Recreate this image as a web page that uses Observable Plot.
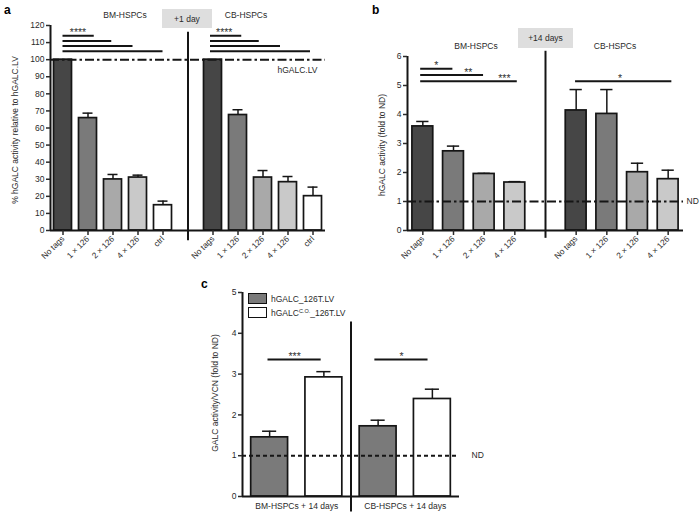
<!DOCTYPE html>
<html><head><meta charset="utf-8">
<script src="https://cdn.jsdelivr.net/npm/d3@7"></script>
<script src="https://cdn.jsdelivr.net/npm/@observablehq/plot@0.6"></script>
<style>
body{margin:0;background:#fff;font-family:"Liberation Sans",Arial,sans-serif;}
#root{position:relative;width:700px;height:515px;overflow:hidden;background:#fff}
.pnl{position:absolute}
.t{position:absolute;font-size:8.5px;color:#2a2a2a;white-space:nowrap;line-height:1}
.c{transform:translate(-50%,-50%)}
.rot{transform:translate(-50%,-50%) rotate(-90deg)}
.letter{position:absolute;font-weight:bold;font-size:12px;color:#000;line-height:1}
.box{position:absolute;background:#dedede;font-size:8.5px;color:#2a2a2a;display:flex;align-items:center;justify-content:center}
.sw{position:absolute;border:1.6px solid #111;box-sizing:border-box}
sup{font-size:5.5px;vertical-align:0;position:relative;top:-3.5px}
</style></head><body><div id="root"></div>
<script>
// ---------- Panel a data ----------
const catsA = ["No tags", "1 × 126", "2 × 126", "4 × 126", "ctrl"];
const bmA = [100, 65.8, 29.9, 31.0, 14.8];
const bmAerr = [0, 2.9, 2.9, 1.4, 2.4];
const cbA = [100, 67.6, 31.0, 28.3, 20.1];
const cbAerr = [0, 3.1, 4.1, 3.3, 5.3];
const fillsA = ["#464646", "#7a7a7a", "#a9a9a9", "#c9c9c9", "#ffffff"];
const ticksA = d3.range(0, 121, 10);
const sigA = [
  {from: 0, to: 1.25, y: 114, label: "****", lx: 0.6},
  {from: 0, to: 1.95, y: 111},
  {from: 0, to: 2.8, y: 108},
  {from: 0, to: 4, y: 105},
  {from: 5.9, to: 7.15, y: 114, label: "****", lx: 6.45},
  {from: 5.9, to: 7.85, y: 111},
  {from: 5.9, to: 8.7, y: 108},
  {from: 5.9, to: 9.9, y: 105}
];

// ---------- Panel b data ----------
const catsB = ["No tags", "1 × 126", "2 × 126", "4 × 126"];
const bmB = [3.59, 2.73, 1.95, 1.655];
const bmBerr = [0.17, 0.18, 0.02, 0.03];
const cbB = [4.14, 4.02, 2.01, 1.77];
const cbBerr = [0.72, 0.84, 0.31, 0.31];
const fillsB = ["#464646", "#7a7a7a", "#a9a9a9", "#c9c9c9"];
const ticksB = d3.range(0, 7, 1);
const sigB = [
  {from: -0.07, to: 0.98, y: 5.58, label: "*", lx: 0.44},
  {from: -0.07, to: 1.98, y: 5.36, label: "**", lx: 1.48},
  {from: -0.07, to: 3.08, y: 5.15, label: "***", lx: 2.66},
  {from: 4.98, to: 8.12, y: 5.15, label: "*", lx: 6.43}
];

// ---------- Panel c data ----------
const groupsC = ["BM-HSPCs + 14 days", "CB-HSPCs + 14 days"];
const seriesC = ["hGALC_126T.LV", "hGALC C.O. _126T.LV"];
const stdC = [1.45, 1.72];
const stdCerr = [0.15, 0.15];
const coC = [2.92, 2.39];
const coCerr = [0.14, 0.24];
const fillsC = ["#7a7a7a", "#ffffff"];
const ticksC = d3.range(0, 6, 1);
const sigC = [
  {from: -0.03, to: 0.95, y: 3.36, label: "***"},
  {from: 1.94, to: 2.92, y: 3.36, label: "*"}
];

const FONT = "'Liberation Sans', Arial, sans-serif";
const INK = "#151515";
const root = document.getElementById("root");

function put(node, left, top) {
  node.classList.add("pnl");
  node.style.left = left + "px";
  node.style.top = top + "px";
  root.appendChild(node);
}
function html(cls, text, left, top, extra) {
  const d = document.createElement("div");
  d.className = cls;
  d.innerHTML = text;
  d.style.left = left + "px";
  d.style.top = top + "px";
  if (extra) Object.assign(d.style, extra);
  root.appendChild(d);
  return d;
}

function barMarks(bars, half, cap) {
  const err = bars.filter(d => d.e > 0);
  return [
    Plot.ruleX(err, {x: "pos", y1: "v", y2: d => d.v + d.e, stroke: INK, strokeWidth: 1.5}),
    Plot.ruleY(err, {y: d => d.v + d.e, x1: d => d.pos - cap, x2: d => d.pos + cap, stroke: INK, strokeWidth: 1.5}),
    Plot.rect(bars, {x1: d => d.pos - half, x2: d => d.pos + half, y1: 0, y2: "v", fill: "cat", stroke: INK, strokeWidth: 1.7})
  ];
}
function sigMarks(sig, fs) {
  return [
    Plot.ruleY(sig, {y: "y", x1: "from", x2: "to", stroke: INK, strokeWidth: 2}),
    Plot.text(sig.filter(d => d.label), {x: d => d.lx ?? (d.from + d.to) / 2, y: "y", text: "label", lineAnchor: "bottom", dy: 0.5, fontSize: fs, fill: "#333"})
  ];
}
const baseStyle = {fontFamily: FONT, fontSize: "8.5px", color: "#2a2a2a", background: "transparent", overflow: "visible"};
const intFmt = d3.format("d");

// ---------- Panel a ----------
const barsA = [
  ...catsA.map((c, k) => ({pos: k, cat: c, v: bmA[k], e: bmAerr[k]})),
  ...catsA.map((c, k) => ({pos: k + catsA.length + 1, cat: c, v: cbA[k], e: cbAerr[k]}))
];
const dividerA = catsA.length;
const plotA = Plot.plot({
  width: 350, height: 262,
  marginLeft: 50, marginRight: 25, marginTop: 25, marginBottom: 32,
  style: baseStyle,
  x: {domain: [-0.5, 2 * catsA.length + 0.5]},
  y: {domain: [0, 120]},
  color: {domain: catsA, range: fillsA},
  marks: [
    ...barMarks(barsA, 0.36, 0.2),
    Plot.ruleY([100], {stroke: INK, strokeWidth: 2, strokeDasharray: "9,3,2.5,3"}),
    Plot.text([100], {y: d => d, text: () => "hGALC.LV", frameAnchor: "right", textAnchor: "end", dx: -8, dy: 11, fontSize: 8.5, fill: "#2a2a2a"}),
    ...sigMarks(sigA, 10.5),
    Plot.ruleX([dividerA], {y1: -6, y2: 116, stroke: INK, strokeWidth: 2}),
    Plot.ruleX([-0.5], {stroke: INK, strokeWidth: 2}),
    Plot.ruleY([0], {stroke: INK, strokeWidth: 2}),
    Plot.axisY({ticks: ticksA, tickFormat: intFmt, tickSize: 4, tickPadding: 2, strokeWidth: 1.5, fontSize: 8.5, label: null}),
    Plot.axisX({ticks: barsA.map(d => d.pos), tickFormat: p => barsA.find(d => d.pos === p).cat, tickRotate: -45, tickSize: 5, tickPadding: 2, strokeWidth: 1.5, fontSize: 8.3, label: null})
  ]
});
put(plotA, 0, 0);

// ---------- Panel b ----------
const barsB = [
  ...catsB.map((c, k) => ({pos: k, cat: c, v: bmB[k], e: bmBerr[k]})),
  ...catsB.map((c, k) => ({pos: k + catsB.length + 1, cat: c, v: cbB[k], e: cbBerr[k]}))
];
const dividerB = catsB.length;
const plotB = Plot.plot({
  width: 350, height: 262,
  marginLeft: 57, marginRight: 17, marginTop: 56, marginBottom: 32,
  style: baseStyle,
  x: {domain: [-0.5, 2 * catsB.length + 0.5]},
  y: {domain: [0, 6]},
  color: {domain: catsB, range: fillsB},
  marks: [
    ...barMarks(barsB, 0.34, 0.2),
    Plot.ruleY([1], {stroke: INK, strokeWidth: 2, strokeDasharray: "9,3,2.5,3"}),
    Plot.text([1], {y: d => d, text: () => "ND", frameAnchor: "right", textAnchor: "start", dx: 3, fontSize: 8.5, fill: "#2a2a2a"}),
    ...sigMarks(sigB, 10.5),
    Plot.ruleX([dividerB], {y1: -0.27, y2: 6.18, stroke: INK, strokeWidth: 2}),
    Plot.ruleX([-0.5], {stroke: INK, strokeWidth: 2}),
    Plot.ruleY([0], {stroke: INK, strokeWidth: 2}),
    Plot.axisY({ticks: ticksB, tickFormat: intFmt, tickSize: 4, tickPadding: 2, strokeWidth: 1.5, fontSize: 8.5, label: null}),
    Plot.axisX({ticks: barsB.map(d => d.pos), tickFormat: p => barsB.find(d => d.pos === p).cat, tickRotate: -45, tickSize: 5, tickPadding: 2, strokeWidth: 1.5, fontSize: 8.3, label: null})
  ]
});
put(plotB, 350, 0);

// ---------- Panel c ----------
const barsC = [];
groupsC.forEach((g, k) => {
  barsC.push({pos: 2 * k, cat: seriesC[0], v: stdC[k], e: stdCerr[k]});
  barsC.push({pos: 2 * k + 1, cat: seriesC[1], v: coC[k], e: coCerr[k]});
});
const plotC = Plot.plot({
  width: 300, height: 253,
  marginLeft: 62, marginRight: 21, marginTop: 30, marginBottom: 19,
  style: baseStyle,
  x: {domain: [-0.5, 2 * groupsC.length - 0.5]},
  y: {domain: [0, 5]},
  color: {domain: seriesC, range: fillsC},
  marks: [
    ...barMarks(barsC, 0.34, 0.13),
    Plot.ruleY([1], {stroke: INK, strokeWidth: 2, strokeDasharray: "4,3"}),
    Plot.text([1], {y: d => d, text: () => "ND", frameAnchor: "right", textAnchor: "start", dx: 12, fontSize: 8.5, fill: "#2a2a2a"}),
    ...sigMarks(sigC, 10.5),
    Plot.ruleX([1.5], {y1: -0.38, y2: 4.28, stroke: INK, strokeWidth: 2}),
    Plot.ruleX([-0.5], {stroke: INK, strokeWidth: 2}),
    Plot.ruleY([0], {stroke: INK, strokeWidth: 2}),
    Plot.axisY({ticks: ticksC, tickFormat: intFmt, tickSize: 4, tickPadding: 2, strokeWidth: 1.5, fontSize: 8.5, label: null}),
    Plot.axisX({ticks: groupsC.map((g, k) => 2 * k + 0.5), tickFormat: p => groupsC[Math.round((p - 0.5) / 2)], tickSize: 0, tickPadding: 6, fontSize: 8.5, label: null})
  ]
});
put(plotC, 180, 262);

// ---------- Titles, annotations, y labels ----------
html("letter", "a", 4, 4);
html("letter", "b", 372, 4);
html("letter", "c", 201, 278);
html("t c", "BM-HSPCs", 125, 15);
html("t c", "CB-HSPCs", 246, 15);
html("box", "+1 day", 162, 9, {width: "50px", height: "19px"});
html("t c", "BM-HSPCs", 476, 46);
html("t c", "CB-HSPCs", 615, 46);
html("box", "+14 days", 518, 28, {width: "55px", height: "20px"});
html("t rot", "% hGALC activity relative to hGALC.LV", 15, 130);
html("t rot", "hGALC activity (fold to ND)", 382, 145);
html("t rot", "GALC activity/VCN (fold to ND)", 215, 393);
// legend c
html("sw", "", 248, 293, {width: "19px", height: "11px", background: fillsC[0]});
html("sw", "", 248, 307, {width: "19px", height: "11px", background: fillsC[1]});
html("t", "hGALC_126T.LV", 271, 295);
html("t", "hGALC<sup>C.O.</sup>_126T.LV", 271, 309);
</script></body></html>
